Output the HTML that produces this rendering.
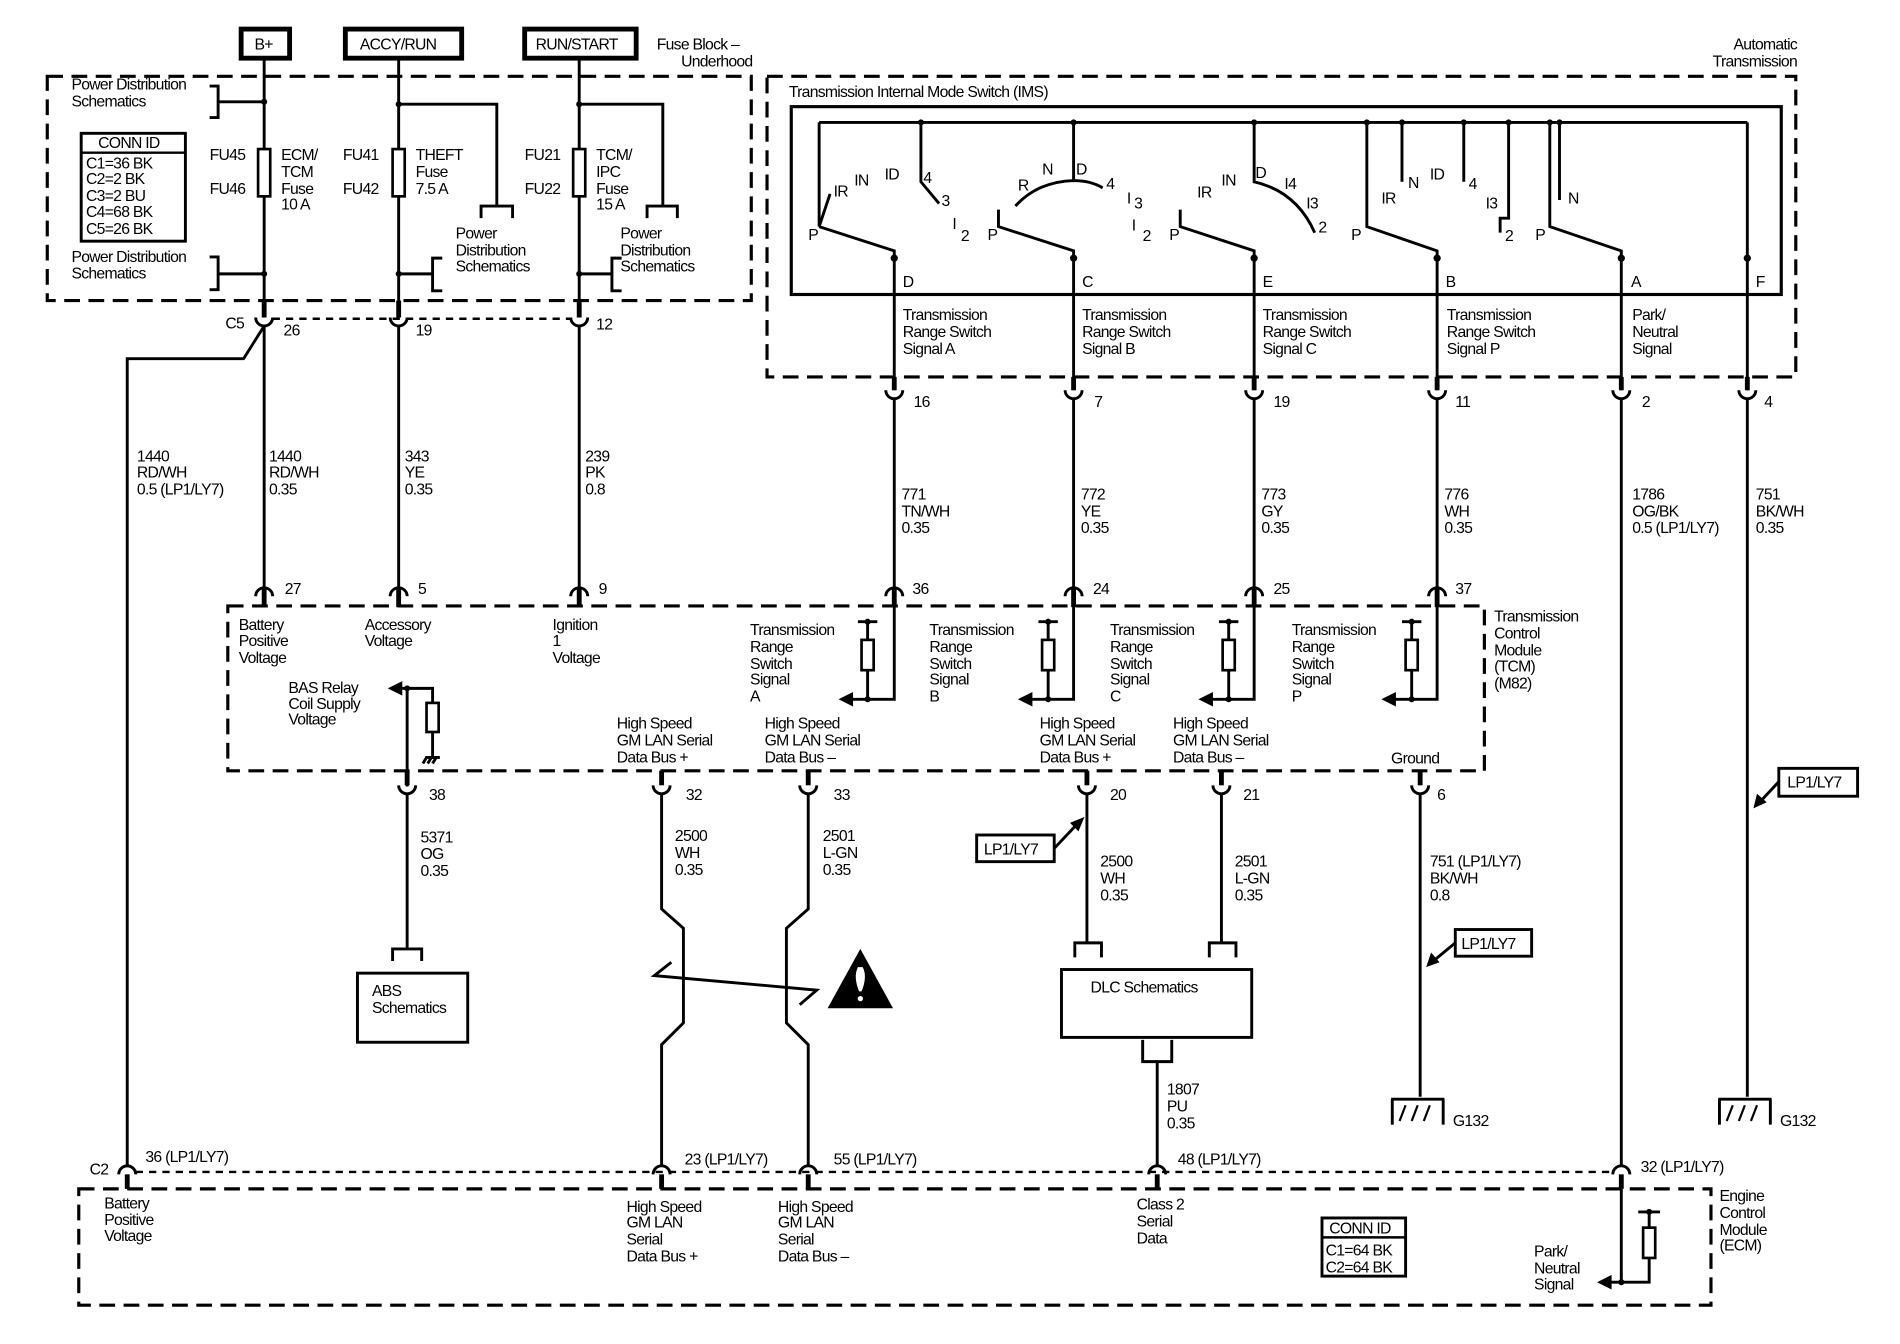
<!DOCTYPE html>
<html><head><meta charset="utf-8"><style>
html,body{margin:0;padding:0;background:#fff;}
svg{display:block;}
text{font-family:"Liberation Sans",sans-serif;font-size:13px;fill:#000;letter-spacing:-0.6px;}
.w{stroke:#000;stroke-width:2.4;fill:none;}
.t{stroke:#000;stroke-width:4;fill:none;}
.d{stroke:#000;stroke-width:2.6;fill:none;stroke-dasharray:13 7;}
.s{stroke:#000;stroke-width:2;fill:none;stroke-dasharray:6 5;}
.b{stroke:#000;stroke-width:2.2;fill:#fff;}
</style></head><body>
<svg width="1900" height="1344" viewBox="0 0 1568 1109" preserveAspectRatio="none" xmlns="http://www.w3.org/2000/svg">
<rect width="1568" height="1109" fill="#fff"/>
<!-- Top boxes -->
<rect x="199" y="24" width="40" height="24" fill="#fff" stroke="#000" stroke-width="4"/>
<text x="210" y="41">B+</text>
<rect x="285" y="24" width="96" height="24" fill="#fff" stroke="#000" stroke-width="4"/>
<text x="297" y="41">ACCY/RUN</text>
<rect x="433" y="24" width="92" height="24" fill="#fff" stroke="#000" stroke-width="4"/>
<text x="442" y="41">RUN/START</text>
<text x="542" y="41">Fuse Block –</text>
<text x="621" y="55" text-anchor="end">Underhood</text>

<!-- Fuse block -->
<rect x="39" y="63" width="581" height="185" class="d"/>
<line x1="218" y1="49" x2="218" y2="262" class="w" stroke-width="3"/>
<line x1="329" y1="49" x2="329" y2="262" class="w"/>
<line x1="478" y1="49" x2="478" y2="262" class="w"/>
<text x="59" y="74">Power Distribution</text><text x="59" y="88">Schematics</text>
<polyline points="173,71 180,71 180,97 173,97" class="w"/><line x1="180" y1="84" x2="218" y2="84" class="w"/><circle cx="218" cy="84" r="2.5"/>
<text x="59" y="216">Power Distribution</text><text x="59" y="230">Schematics</text>
<polyline points="173,212 180,212 180,239 173,239" class="w"/><line x1="180" y1="226" x2="218" y2="226" class="w"/><circle cx="218" cy="226" r="2.5"/>
<rect x="67" y="110" width="86" height="89" fill="#fff" stroke="#000" stroke-width="2.4"/>
<line x1="67" y1="126" x2="153" y2="126" stroke="#000" stroke-width="2"/>
<text x="81" y="122">CONN ID</text>
<text x="71" y="139">C1=36 BK</text><text x="71" y="152">C2=2 BK</text><text x="71" y="166">C3=2 BU</text><text x="71" y="179">C4=68 BK</text><text x="71" y="193">C5=26 BK</text>
<rect x="213" y="123" width="10" height="39" class="b"/>
<text x="173" y="132">FU45</text><text x="173" y="160">FU46</text>
<text x="232" y="132">ECM/</text><text x="232" y="146">TCM</text><text x="232" y="160">Fuse</text><text x="232" y="173">10 A</text>
<rect x="324" y="123" width="10" height="39" class="b"/>
<text x="283" y="132">FU41</text><text x="283" y="160">FU42</text>
<text x="343" y="132">THEFT</text><text x="343" y="146">Fuse</text><text x="343" y="160">7.5 A</text>
<polyline points="329,86 410,86 410,170" class="w"/><circle cx="329" cy="86" r="2.5"/>
<polyline points="397,180 397,170 423,170 423,180" class="w"/>
<text x="376" y="197">Power</text><text x="376" y="211">Distribution</text><text x="376" y="224">Schematics</text>
<line x1="329" y1="226" x2="357" y2="226" class="w"/><polyline points="365,213 357,213 357,240 365,240" class="w"/><circle cx="329" cy="226" r="2.5"/>
<rect x="473" y="123" width="10" height="39" class="b"/>
<text x="433" y="132">FU21</text><text x="433" y="160">FU22</text>
<text x="492" y="132">TCM/</text><text x="492" y="146">IPC</text><text x="492" y="160">Fuse</text><text x="492" y="173">15 A</text>
<polyline points="478,86 547,86 547,170" class="w"/><circle cx="478" cy="86" r="2.5"/>
<polyline points="534,180 534,170 559,170 559,180" class="w"/>
<text x="512" y="197">Power</text><text x="512" y="211">Distribution</text><text x="512" y="224">Schematics</text>
<line x1="478" y1="226" x2="505" y2="226" class="w"/><polyline points="513,213 505,213 505,240 513,240" class="w"/><circle cx="478" cy="226" r="2.5"/>

<!-- C5 row -->
<line x1="225" y1="263" x2="472" y2="263" class="s"/>
<g class="t"><line x1="218" y1="248" x2="218" y2="262"/><line x1="329" y1="248" x2="329" y2="262"/><line x1="478" y1="248" x2="478" y2="262"/></g>
<g class="w"><path d="M211,262 A7,7 0 0 0 225,262"/><path d="M322,262 A7,7 0 0 0 336,262"/><path d="M471,262 A7,7 0 0 0 485,262"/></g>
<text x="186" y="271">C5</text><text x="234" y="277">26</text><text x="343" y="277">19</text><text x="492" y="272">12</text>
<polyline points="218,269 201,296 105,296 105,962" class="w"/>
<line x1="218" y1="269" x2="218" y2="485" class="w" stroke-width="3"/>
<line x1="329" y1="269" x2="329" y2="485" class="w"/>
<line x1="478" y1="269" x2="478" y2="485" class="w"/>
<text x="113" y="381">1440</text><text x="113" y="394">RD/WH</text><text x="113" y="408">0.5 (LP1/LY7)</text>
<text x="222" y="381">1440</text><text x="222" y="394">RD/WH</text><text x="222" y="408">0.35</text>
<text x="334" y="381">343</text><text x="334" y="394">YE</text><text x="334" y="408">0.35</text>
<text x="483" y="381">239</text><text x="483" y="394">PK</text><text x="483" y="408">0.8</text>

<!-- Automatic transmission -->
<text x="1483" y="41" text-anchor="end">Automatic</text><text x="1483" y="55" text-anchor="end">Transmission</text>
<rect x="633" y="63" width="849" height="248" class="d"/>
<text x="651" y="80">Transmission Internal Mode Switch (IMS)</text>
<rect x="653" y="88" width="817" height="155" fill="none" stroke="#000" stroke-width="2.6"/>
<line x1="676" y1="101" x2="1442" y2="101" class="w" stroke-width="3"/>
<line x1="676" y1="101" x2="676" y2="187" class="w"/>
<line x1="1442" y1="101" x2="1442" y2="322" class="w"/>
<!-- switch D -->
<polyline points="760,101 760,150 775,168" class="w"/>
<line x1="676" y1="187" x2="685" y2="160" class="w"/>
<polyline points="676,187 738,207 738,322" class="w" stroke-width="3"/>
<text x="667" y="198">P</text><text x="688" y="162">IR</text><text x="705" y="153">IN</text><text x="730" y="148">ID</text><text x="762" y="151">4</text><text x="777" y="170">3</text><text x="786" y="189">I</text><text x="793" y="199">2</text>
<!-- switch C -->
<line x1="886" y1="101" x2="886" y2="150" class="w"/>
<path d="M838,170 Q856,150 886,149 Q900,149 910,155" class="w" stroke-width="3"/>
<polyline points="824,173 824,187 886,207 886,322" class="w" stroke-width="3"/>
<text x="815" y="198">P</text><text x="840" y="157">R</text><text x="860" y="144">N</text><text x="888" y="144">D</text><text x="913" y="156">4</text><text x="930" y="168">I</text><text x="936" y="172">3</text><text x="934" y="190">I</text><text x="943" y="199">2</text>
<!-- switch E -->
<path d="M1035,101 L1035,150 Q1070,158 1085,192" class="w" stroke-width="3"/>
<polyline points="974,173 974,187 1035,207 1035,322" class="w" stroke-width="3"/>
<text x="965" y="198">P</text><text x="988" y="163">IR</text><text x="1008" y="153">IN</text><text x="1036" y="147">D</text><text x="1060" y="156">I4</text><text x="1078" y="172">I3</text><text x="1088" y="192">2</text>
<!-- switch B -->
<polyline points="1128,101 1128,187 1186,207 1186,322" class="w" stroke-width="3"/>
<line x1="1157" y1="101" x2="1157" y2="150" class="w"/>
<line x1="1208" y1="101" x2="1208" y2="150" class="w"/>
<polyline points="1245,101 1245,180 1238,180 1238,192" class="w"/>
<text x="1115" y="198">P</text><text x="1140" y="168">IR</text><text x="1162" y="155">N</text><text x="1180" y="148">ID</text><text x="1212" y="156">4</text><text x="1226" y="172">I3</text><text x="1242" y="199">2</text>
<!-- switch A -->
<polyline points="1279,101 1279,187 1338,207 1338,322" class="w" stroke-width="3"/>
<line x1="1287" y1="101" x2="1287" y2="165" class="w"/>
<text x="1267" y="198">P</text><text x="1294" y="168">N</text>
<g><circle cx="760" cy="101" r="2.5"/><circle cx="886" cy="101" r="2.5"/><circle cx="1035" cy="101" r="2.5"/><circle cx="1128" cy="101" r="2.5"/><circle cx="1157" cy="101" r="2.5"/><circle cx="1208" cy="101" r="2.5"/><circle cx="1245" cy="101" r="2.5"/><circle cx="1279" cy="101" r="2.5"/><circle cx="1287" cy="101" r="2.5"/>
<circle cx="738" cy="213" r="3"/><circle cx="886" cy="213" r="3"/><circle cx="1035" cy="213" r="3"/><circle cx="1186" cy="213" r="3"/><circle cx="1338" cy="213" r="3"/><circle cx="1442" cy="213" r="3"/></g>
<text x="745" y="237">D</text><text x="893" y="237">C</text><text x="1042" y="237">E</text><text x="1193" y="237">B</text><text x="1346" y="237">A</text><text x="1449" y="237">F</text>
<text x="745" y="264">Transmission</text><text x="745" y="278">Range Switch</text><text x="745" y="292">Signal A</text>
<text x="893" y="264">Transmission</text><text x="893" y="278">Range Switch</text><text x="893" y="292">Signal B</text>
<text x="1042" y="264">Transmission</text><text x="1042" y="278">Range Switch</text><text x="1042" y="292">Signal C</text>
<text x="1194" y="264">Transmission</text><text x="1194" y="278">Range Switch</text><text x="1194" y="292">Signal P</text>
<text x="1347" y="264">Park/</text><text x="1347" y="278">Neutral</text><text x="1347" y="292">Signal</text>
<!-- connectors 322 row -->
<g class="t"><line x1="738" y1="311" x2="738" y2="322"/><line x1="886" y1="311" x2="886" y2="322"/><line x1="1035" y1="311" x2="1035" y2="322"/><line x1="1186" y1="311" x2="1186" y2="322"/><line x1="1338" y1="311" x2="1338" y2="322"/><line x1="1442" y1="311" x2="1442" y2="322"/></g>
<g class="w"><path d="M731,322 A7,7 0 0 0 745,322"/><path d="M879,322 A7,7 0 0 0 893,322"/><path d="M1028,322 A7,7 0 0 0 1042,322"/><path d="M1179,322 A7,7 0 0 0 1193,322"/><path d="M1331,322 A7,7 0 0 0 1345,322"/><path d="M1435,322 A7,7 0 0 0 1449,322"/></g>
<text x="754" y="336">16</text><text x="903" y="336">7</text><text x="1051" y="336">19</text><text x="1201" y="336">11</text><text x="1355" y="336">2</text><text x="1456" y="336">4</text>
<g class="w"><line x1="738" y1="329" x2="738" y2="485"/><line x1="886" y1="329" x2="886" y2="485"/><line x1="1035" y1="329" x2="1035" y2="485"/><line x1="1186" y1="329" x2="1186" y2="485"/><line x1="1338" y1="329" x2="1338" y2="962"/><line x1="1442" y1="329" x2="1442" y2="905"/></g>
<text x="744" y="412">771</text><text x="744" y="426">TN/WH</text><text x="744" y="440">0.35</text>
<text x="892" y="412">772</text><text x="892" y="426">YE</text><text x="892" y="440">0.35</text>
<text x="1041" y="412">773</text><text x="1041" y="426">GY</text><text x="1041" y="440">0.35</text>
<text x="1192" y="412">776</text><text x="1192" y="426">WH</text><text x="1192" y="440">0.35</text>
<text x="1347" y="412">1786</text><text x="1347" y="426">OG/BK</text><text x="1347" y="440">0.5 (LP1/LY7)</text>
<text x="1449" y="412">751</text><text x="1449" y="426">BK/WH</text><text x="1449" y="440">0.35</text>

<!-- TCM -->
<rect x="188" y="500" width="1037" height="136" class="d"/>
<g class="w"><path d="M211,492 A7,7 0 0 1 225,492"/><path d="M322,492 A7,7 0 0 1 336,492"/><path d="M471,492 A7,7 0 0 1 485,492"/><path d="M731,492 A7,7 0 0 1 745,492"/><path d="M879,492 A7,7 0 0 1 893,492"/><path d="M1028,492 A7,7 0 0 1 1042,492"/><path d="M1179,492 A7,7 0 0 1 1193,492"/></g>
<g class="t"><line x1="218" y1="486" x2="218" y2="501"/><line x1="329" y1="486" x2="329" y2="501"/><line x1="478" y1="486" x2="478" y2="501"/><line x1="738" y1="486" x2="738" y2="501"/><line x1="886" y1="486" x2="886" y2="501"/><line x1="1035" y1="486" x2="1035" y2="501"/><line x1="1186" y1="486" x2="1186" y2="501"/></g>
<text x="235" y="490">27</text><text x="345" y="490">5</text><text x="494" y="490">9</text><text x="753" y="490">36</text><text x="902" y="490">24</text><text x="1051" y="490">25</text><text x="1201" y="490">37</text>
<text x="1233" y="513">Transmission</text><text x="1233" y="527">Control</text><text x="1233" y="541">Module</text><text x="1233" y="554">(TCM)</text><text x="1233" y="568">(M82)</text>
<text x="197" y="520">Battery</text><text x="197" y="533">Positive</text><text x="197" y="547">Voltage</text>
<text x="301" y="520">Accessory</text><text x="301" y="533">Voltage</text>
<text x="456" y="520">Ignition</text><text x="456" y="533">1</text><text x="456" y="547">Voltage</text>
<!-- range switch inputs -->
<g>
<polyline points="738,500 738,577 700,577" class="w"/><path d="M692,577 L704,571 L704,583 Z"/>
<polyline points="708,513 724,513" class="w"/><line x1="716" y1="513" x2="716" y2="577" class="w"/><rect x="711" y="528" width="10" height="25" class="b"/><circle cx="716" cy="577" r="2.5"/><circle cx="716" cy="513" r="2.5"/>
<text x="619" y="524">Transmission</text><text x="619" y="538">Range</text><text x="619" y="552">Switch</text><text x="619" y="565">Signal</text><text x="619" y="579">A</text>
<polyline points="886,500 886,577 848,577" class="w"/><path d="M840,577 L852,571 L852,583 Z"/>
<polyline points="857,513 873,513" class="w"/><line x1="865" y1="513" x2="865" y2="577" class="w"/><rect x="860" y="528" width="10" height="25" class="b"/><circle cx="865" cy="577" r="2.5"/><circle cx="865" cy="513" r="2.5"/>
<text x="767" y="524">Transmission</text><text x="767" y="538">Range</text><text x="767" y="552">Switch</text><text x="767" y="565">Signal</text><text x="767" y="579">B</text>
<polyline points="1035,500 1035,577 997,577" class="w"/><path d="M989,577 L1001,571 L1001,583 Z"/>
<polyline points="1006,513 1022,513" class="w"/><line x1="1014" y1="513" x2="1014" y2="577" class="w"/><rect x="1009" y="528" width="10" height="25" class="b"/><circle cx="1014" cy="577" r="2.5"/><circle cx="1014" cy="513" r="2.5"/>
<text x="916" y="524">Transmission</text><text x="916" y="538">Range</text><text x="916" y="552">Switch</text><text x="916" y="565">Signal</text><text x="916" y="579">C</text>
<polyline points="1186,500 1186,577 1148,577" class="w"/><path d="M1140,577 L1152,571 L1152,583 Z"/>
<polyline points="1157,513 1173,513" class="w"/><line x1="1165" y1="513" x2="1165" y2="577" class="w"/><rect x="1160" y="528" width="10" height="25" class="b"/><circle cx="1165" cy="577" r="2.5"/><circle cx="1165" cy="513" r="2.5"/>
<text x="1066" y="524">Transmission</text><text x="1066" y="538">Range</text><text x="1066" y="552">Switch</text><text x="1066" y="565">Signal</text><text x="1066" y="579">P</text>
</g>
<!-- BAS -->
<text x="238" y="572">BAS Relay</text><text x="238" y="585">Coil Supply</text><text x="238" y="598">Voltage</text>
<polyline points="336,649 336,568 357,568 357,580" class="w"/>
<line x1="336" y1="568" x2="328" y2="568" class="w"/><path d="M320,568 L332,562 L332,574 Z"/><circle cx="336" cy="568" r="2.5"/>
<rect x="352" y="580" width="10" height="24" class="b"/>
<line x1="357" y1="604" x2="357" y2="624" class="w"/>
<polyline points="351,625 363,625" class="w"/><line x1="352" y1="625" x2="349" y2="630" class="w" stroke-width="1.5"/><line x1="356" y1="625" x2="353" y2="630" class="w" stroke-width="1.5"/><line x1="360" y1="625" x2="357" y2="630" class="w" stroke-width="1.5"/>
<text x="509" y="601">High Speed</text><text x="509" y="615">GM LAN Serial</text><text x="509" y="629">Data Bus +</text>
<text x="631" y="601">High Speed</text><text x="631" y="615">GM LAN Serial</text><text x="631" y="629">Data Bus –</text>
<text x="858" y="601">High Speed</text><text x="858" y="615">GM LAN Serial</text><text x="858" y="629">Data Bus +</text>
<text x="968" y="601">High Speed</text><text x="968" y="615">GM LAN Serial</text><text x="968" y="629">Data Bus –</text>
<text x="1148" y="630">Ground</text>
<!-- bottom TCM connectors -->
<g class="t"><line x1="336" y1="636" x2="336" y2="648"/><line x1="546" y1="636" x2="546" y2="648"/><line x1="667" y1="636" x2="667" y2="648"/><line x1="897" y1="636" x2="897" y2="648"/><line x1="1008" y1="636" x2="1008" y2="648"/><line x1="1172" y1="636" x2="1172" y2="648"/></g>
<g class="w"><path d="M329,648 A7,7 0 0 0 343,648"/><path d="M539,648 A7,7 0 0 0 553,648"/><path d="M660,648 A7,7 0 0 0 674,648"/><path d="M890,648 A7,7 0 0 0 904,648"/><path d="M1001,648 A7,7 0 0 0 1015,648"/><path d="M1165,648 A7,7 0 0 0 1179,648"/></g>
<text x="354" y="660">38</text><text x="566" y="660">32</text><text x="688" y="660">33</text><text x="916" y="660">20</text><text x="1026" y="660">21</text><text x="1186" y="660">6</text>
<!-- ABS -->
<line x1="336" y1="655" x2="336" y2="783" class="w"/>
<polyline points="324,793 324,783 348,783 348,793" class="w"/>
<text x="347" y="695">5371</text><text x="347" y="709">OG</text><text x="347" y="723">0.35</text>
<rect x="295" y="803" width="91" height="57" fill="none" stroke="#000" stroke-width="2.4"/>
<text x="307" y="822">ABS</text><text x="307" y="836">Schematics</text>
<!-- twisted pair -->
<polyline points="546,655 546,750 564,766 564,844 546,862 546,962" class="w"/>
<polyline points="667,655 667,750 649,766 649,844 667,862 667,962" class="w"/>
<polyline points="554,794 540,805 674,817 660,829" class="w" stroke-width="2"/>
<text x="557" y="694">2500</text><text x="557" y="708">WH</text><text x="557" y="722">0.35</text>
<text x="679" y="694">2501</text><text x="679" y="708">L-GN</text><text x="679" y="722">0.35</text>
<path d="M710,783 L737,832 L683,832 Z"/>
<path d="M708,798 Q704,806 709,818 L711,818 Q716,806 712,798 Z" fill="#fff"/><circle cx="710" cy="824" r="2.2" fill="#fff"/>
<!-- DLC -->
<line x1="897" y1="655" x2="897" y2="778" class="w"/>
<line x1="1008" y1="655" x2="1008" y2="778" class="w"/>
<polyline points="887,790 887,778 909,778 909,790" class="w"/>
<polyline points="998,790 998,778 1020,778 1020,790" class="w"/>
<rect x="806" y="689" width="64" height="22" fill="#fff" stroke="#000" stroke-width="2.4"/><text x="812" y="705">LP1/LY7</text>
<line x1="870" y1="700" x2="888" y2="681" class="w"/><path d="M895,674 L883,679 L890,686 Z"/>
<text x="908" y="715">2500</text><text x="908" y="729">WH</text><text x="908" y="743">0.35</text>
<text x="1019" y="715">2501</text><text x="1019" y="729">L-GN</text><text x="1019" y="743">0.35</text>
<rect x="876" y="800" width="157" height="56" fill="none" stroke="#000" stroke-width="2.4"/>
<text x="900" y="819">DLC Schematics</text>
<polyline points="943,858 943,876 967,876 967,858" class="w"/>
<line x1="955" y1="876" x2="955" y2="962" class="w"/>
<text x="963" y="903">1807</text><text x="963" y="917">PU</text><text x="963" y="931">0.35</text>
<!-- grounds -->
<line x1="1172" y1="655" x2="1172" y2="905" class="w"/>
<text x="1180" y="715">751 (LP1/LY7)</text><text x="1180" y="729">BK/WH</text><text x="1180" y="743">0.8</text>
<rect x="1201" y="767" width="63" height="22" fill="#fff" stroke="#000" stroke-width="2.4"/><text x="1206" y="783">LP1/LY7</text>
<line x1="1201" y1="778" x2="1184" y2="792" class="w"/><path d="M1177,798 L1181,786 L1188,794 Z"/>
<g class="w"><line x1="1148" y1="907" x2="1192" y2="907"/><line x1="1149" y1="907" x2="1149" y2="928"/><line x1="1191" y1="907" x2="1191" y2="928"/><line x1="1160" y1="912" x2="1155" y2="925" stroke-width="1.8"/><line x1="1170" y1="912" x2="1165" y2="925" stroke-width="1.8"/><line x1="1180" y1="912" x2="1175" y2="925" stroke-width="1.8"/></g>
<text x="1199" y="929">G132</text>
<rect x="1468" y="634" width="65" height="23" fill="#fff" stroke="#000" stroke-width="2.4"/><text x="1475" y="650">LP1/LY7</text>
<line x1="1468" y1="645" x2="1454" y2="660" class="w"/><path d="M1447,667 L1450,655 L1458,662 Z"/>
<g class="w"><line x1="1418" y1="907" x2="1462" y2="907"/><line x1="1419" y1="907" x2="1419" y2="928"/><line x1="1461" y1="907" x2="1461" y2="928"/><line x1="1430" y1="912" x2="1425" y2="925" stroke-width="1.8"/><line x1="1440" y1="912" x2="1435" y2="925" stroke-width="1.8"/><line x1="1450" y1="912" x2="1445" y2="925" stroke-width="1.8"/></g>
<text x="1469" y="929">G132</text>
<!-- ECM row -->
<line x1="112" y1="967" x2="1332" y2="967" class="s"/>
<g class="w"><path d="M98,969 A7,7 0 0 1 112,969"/><path d="M539,969 A7,7 0 0 1 553,969"/><path d="M660,969 A7,7 0 0 1 674,969"/><path d="M948,969 A7,7 0 0 1 962,969"/><path d="M1331,969 A7,7 0 0 1 1345,969"/></g>
<g class="t"><line x1="105" y1="969" x2="105" y2="981"/><line x1="546" y1="969" x2="546" y2="981"/><line x1="667" y1="969" x2="667" y2="981"/><line x1="955" y1="969" x2="955" y2="981"/><line x1="1338" y1="969" x2="1338" y2="981"/></g>
<text x="74" y="969">C2</text><text x="120" y="959">36 (LP1/LY7)</text><text x="565" y="961">23 (LP1/LY7)</text><text x="688" y="961">55 (LP1/LY7)</text><text x="972" y="961">48 (LP1/LY7)</text><text x="1354" y="967">32 (LP1/LY7)</text>
<rect x="65" y="981" width="1347" height="96" class="d"/>
<text x="1419" y="991">Engine</text><text x="1419" y="1005">Control</text><text x="1419" y="1019">Module</text><text x="1419" y="1032">(ECM)</text>
<text x="86" y="997">Battery</text><text x="86" y="1011">Positive</text><text x="86" y="1024">Voltage</text>
<text x="517" y="1000">High Speed</text><text x="517" y="1013">GM LAN</text><text x="517" y="1027">Serial</text><text x="517" y="1041">Data Bus +</text>
<text x="642" y="1000">High Speed</text><text x="642" y="1013">GM LAN</text><text x="642" y="1027">Serial</text><text x="642" y="1041">Data Bus –</text>
<text x="938" y="998">Class 2</text><text x="938" y="1012">Serial</text><text x="938" y="1026">Data</text>
<rect x="1091" y="1005" width="69" height="48" fill="#fff" stroke="#000" stroke-width="2.4"/>
<line x1="1091" y1="1021" x2="1160" y2="1021" stroke="#000" stroke-width="2"/>
<text x="1097" y="1018">CONN ID</text><text x="1094" y="1036">C1=64 BK</text><text x="1094" y="1050">C2=64 BK</text>
<text x="1266" y="1037">Park/</text><text x="1266" y="1051">Neutral</text><text x="1266" y="1064">Signal</text>
<polyline points="1338,981 1338,1058 1361,1058 1361,1038" class="w"/>
<line x1="1338" y1="1058" x2="1326" y2="1058" class="w"/><path d="M1318,1058 L1330,1052 L1330,1064 Z"/><circle cx="1338" cy="1058" r="2.5"/>
<rect x="1356" y="1013" width="10" height="25" class="b"/>
<line x1="1361" y1="1000" x2="1361" y2="1013" class="w"/><line x1="1352" y1="1000" x2="1370" y2="1000" class="w"/><circle cx="1361" cy="1000" r="2.5"/>
</svg>
</body></html>
